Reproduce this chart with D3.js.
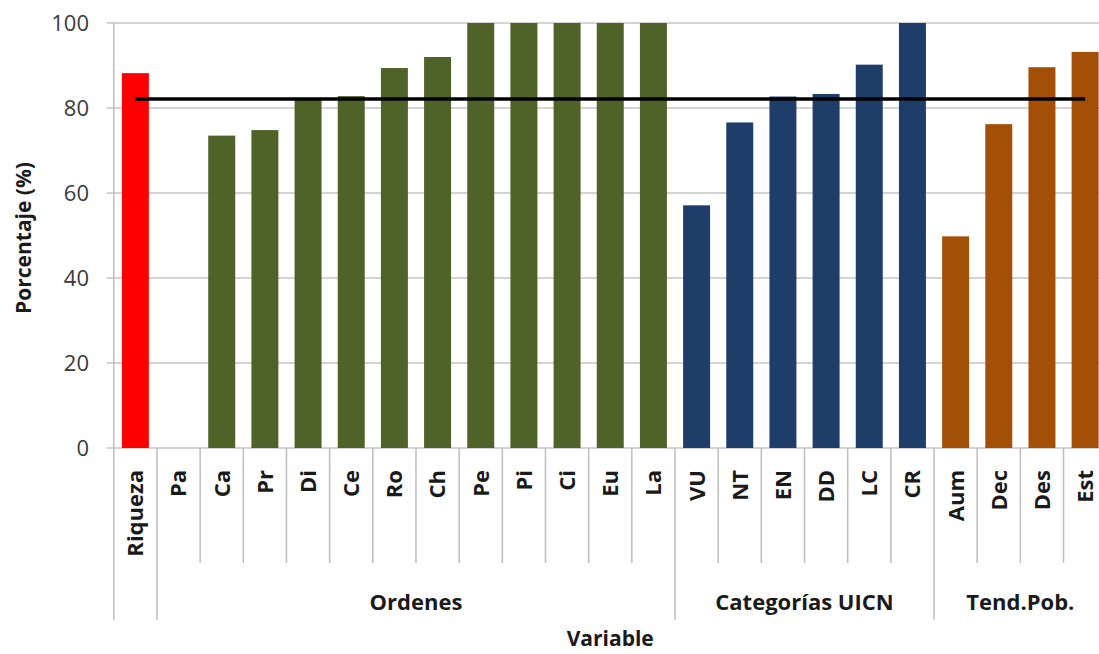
<!DOCTYPE html>
<html><head><meta charset="utf-8">
<script src="https://cdn.jsdelivr.net/npm/d3@7"></script>
<style>
html,body{margin:0;padding:0;background:#fff;}
svg{display:block;}
</style>
</head><body>
<svg id="chart" width="1099" height="654"></svg>
<script>
const categories = ["Riqueza","Pa","Ca","Pr","Di","Ce","Ro","Ch","Pe","Pi","Ci","Eu","La","VU","NT","EN","DD","LC","CR","Aum","Dec","Des","Est"];
const values = [88.2, 0, 73.5, 74.8, 81.9, 82.8, 89.4, 92.0, 100, 100, 100, 100, 100, 57.1, 76.6, 82.7, 83.3, 90.2, 100, 49.8, 76.2, 89.6, 93.2];
const groupOf = [0,1,1,1,1,1,1,1,1,1,1,1,1,2,2,2,2,2,2,3,3,3,3];
const groupLabels = ["", "Ordenes", "Categorías UICN", "Tend.Pob."];
const groupColors = ["#ff0000", "#4f6228", "#1f3d69", "#a34f08"];
const yTicks = [0, 20, 40, 60, 80, 100];
const meanValue = 82.1;
const yTitle = "Porcentaje (%)";
const xTitle = "Variable";

(function () {
const svg = d3.select("#chart");
const font = "'Open Sans', Lato, sans-serif";
const pLeft = 113.8, pRight = 1106.7, pTop = 23, pBottom = 448;

const x = d3.scaleBand().domain(categories).range([pLeft, pRight]).paddingInner(0.375).paddingOuter(0.1875);
const y = d3.scaleLinear().domain([0, 100]).range([pBottom, pTop]);
const step = x.step();
const bandStart = i => pLeft + i * step;

// gridlines
svg.append("g").selectAll("line").data(yTicks).join("line")
  .attr("x1", pLeft - 7).attr("x2", pRight)
  .attr("y1", d => y(d)).attr("y2", d => y(d))
  .attr("stroke", "#c4c4c4").attr("stroke-width", 1.5);

// y tick labels
svg.append("g").selectAll("text").data(yTicks).join("text")
  .attr("x", 89).attr("y", d => y(d)).attr("dy", "0.35em")
  .attr("text-anchor", "end").attr("font-family", font).attr("font-size", 22)
  .attr("fill", "#3a3a3a").text(d => d);

// bars
svg.append("g").selectAll("rect").data(categories).join("rect")
  .attr("x", d => x(d)).attr("width", x.bandwidth())
  .attr("y", (d, i) => y(values[i])).attr("height", (d, i) => y(0) - y(values[i]))
  .attr("fill", (d, i) => groupColors[groupOf[i]]);

// y axis line
svg.append("line").attr("x1", pLeft).attr("x2", pLeft).attr("y1", pTop).attr("y2", 620)
  .attr("stroke", "#bdbdbd").attr("stroke-width", 1.5);

// category dividers
const dividers = d3.range(1, categories.length + 1).map(i => {
  const isGroup = i === categories.length || groupOf[i] !== groupOf[i - 1];
  return { i, isGroup };
});
svg.append("g").selectAll("line").data(dividers).join("line")
  .attr("x1", d => bandStart(d.i)).attr("x2", d => bandStart(d.i))
  .attr("y1", pBottom).attr("y2", d => d.isGroup ? 620 : 563)
  .attr("stroke", "#bdbdbd").attr("stroke-width", 1.5);

// category labels (rotated)
svg.append("g").selectAll("text").data(categories).join("text")
  .attr("transform", d => `translate(${x(d) + x.bandwidth() / 2},${pBottom + 22}) rotate(-90)`)
  .attr("dy", "0.36em").attr("text-anchor", "end")
  .attr("font-family", font).attr("font-size", 22).attr("font-weight", "bold")
  .attr("fill", "#1a1a1a").text(d => d);

// group labels
const groupSpans = groupLabels.map((g, gi) => {
  const idx = categories.map((c, i) => i).filter(i => groupOf[i] === gi);
  return { label: g, start: bandStart(idx[0]), end: bandStart(idx[idx.length - 1] + 1) };
}).filter(d => d.label);
svg.append("g").selectAll("text").data(groupSpans).join("text")
  .attr("x", d => (d.start + d.end) / 2).attr("y", 602).attr("dy", "0.35em")
  .attr("text-anchor", "middle").attr("font-family", font).attr("font-size", 22)
  .attr("font-weight", "bold").attr("fill", "#1a1a1a").text(d => d.label);

// mean line
svg.append("line")
  .attr("x1", x(categories[0]) + x.bandwidth() / 2)
  .attr("x2", x(categories[categories.length - 1]) + x.bandwidth() / 2)
  .attr("y1", y(meanValue)).attr("y2", y(meanValue))
  .attr("stroke", "#000").attr("stroke-width", 3.5);

// axis titles
svg.append("text").attr("transform", `translate(24,238) rotate(-90)`)
  .attr("dy", "0.35em").attr("text-anchor", "middle")
  .attr("font-family", font).attr("font-size", 21).attr("font-weight", "bold")
  .attr("fill", "#1a1a1a").text(yTitle);
svg.append("text").attr("x", (pLeft + pRight) / 2).attr("y", 639).attr("dy", "0.35em")
  .attr("text-anchor", "middle").attr("font-family", font).attr("font-size", 21)
  .attr("font-weight", "bold").attr("fill", "#1a1a1a").text(xTitle);
})();
</script>
</body></html>
